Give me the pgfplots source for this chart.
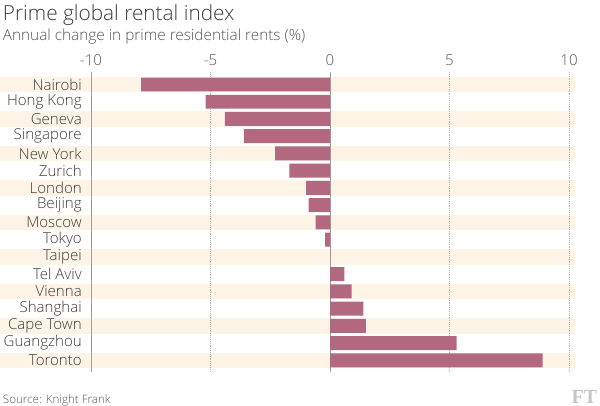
\documentclass[border=0pt]{standalone}
\usepackage{pgfplots}
\pgfplotsset{compat=1.18}
\usepackage{fontspec}
\setmainfont{Open Sans}[UprightFont=* Light]
\newfontfamily\ftfont{Liberation Serif}
\definecolor{barcol}{HTML}{B2687F}
\definecolor{stripe}{HTML}{FDF4E6}
\definecolor{txt}{HTML}{3F3B38}
\definecolor{tickc}{HTML}{5A5551}
\definecolor{gridc}{HTML}{B8B4B0}
\definecolor{zeroc}{HTML}{A09C98}
\begin{document}
\begin{tikzpicture}
\node[anchor=west, inner sep=0pt, text=txt, font=\fontsize{15.6}{18}\selectfont] at (2pt,-11.5pt) {Prime global rental index};
\node[anchor=west, inner sep=0pt, text=tickc, font=\fontsize{11.5}{13}\selectfont] at (2pt,-27.5pt) {Annual change in prime residential rents (\%)};
\node[anchor=west, inner sep=0pt, text=tickc, font=\fontsize{8.7}{10}\selectfont] at (2pt,-300pt) {Source: Knight Frank};
\node[anchor=east, inner sep=0pt, text=gray!45, font=\ftfont\bfseries\fontsize{15}{16}\selectfont] at (448pt,-297.5pt) {FT};
\begin{axis}[
  set layers,
  at={(68.25pt,-279pt)}, anchor=south west,
  scale only axis, width=363pt, height=225pt,
  xmin=-10, xmax=10.25, ymin=-0.725, ymax=16.68, y dir=reverse,
  clip=false,
  axis line style={draw=none},
  major tick length=0pt,
  xtick={-10,-5,0,5,10},
  xticklabel pos=upper,
  /pgf/number format/assume math mode=true,
  xmajorgrids, grid style={densely dotted, gridc, line width=0.5pt},
  xticklabel style={font=\fontsize{11.3}{13}\selectfont, text=tickc, yshift=1pt},
  ytick={0,...,16},
  yticklabels={Nairobi,Hong Kong,Geneva,Singapore,New York,Zurich,London,Beijing,Moscow,Tokyo,Taipei,Tel Aviv,Vienna,Shanghai,Cape Town,Guangzhou,Toronto},
  yticklabel style={font=\fontsize{11.3}{13}\selectfont, text=txt, anchor=east, inner sep=0pt, xshift=-6.75pt},
]
\begin{pgfonlayer}{axis background}
\fill[stripe] (axis cs:-13.81,-0.45) rectangle (axis cs:10.25,0.45);
\fill[stripe] (axis cs:-13.81,1.55) rectangle (axis cs:10.25,2.45);
\fill[stripe] (axis cs:-13.81,3.55) rectangle (axis cs:10.25,4.45);
\fill[stripe] (axis cs:-13.81,5.55) rectangle (axis cs:10.25,6.45);
\fill[stripe] (axis cs:-13.81,7.55) rectangle (axis cs:10.25,8.45);
\fill[stripe] (axis cs:-13.81,9.55) rectangle (axis cs:10.25,10.45);
\fill[stripe] (axis cs:-13.81,11.55) rectangle (axis cs:10.25,12.45);
\fill[stripe] (axis cs:-13.81,13.55) rectangle (axis cs:10.25,14.45);
\fill[stripe] (axis cs:-13.81,15.55) rectangle (axis cs:10.25,16.45);
\end{pgfonlayer}
\draw[zeroc, line width=0.7pt] (axis cs:-10,-0.725) -- (axis cs:-10,16.68);
\draw[zeroc, line width=0.7pt] (axis cs:0,-0.725) -- (axis cs:0,16.68);
\addplot[xbar, fill=barcol, draw=none, bar width=0.81] coordinates {
(-7.9,0) (-5.2,1) (-4.4,2) (-3.6,3) (-2.3,4) (-1.7,5) (-1.0,6) (-0.9,7) (-0.6,8) (-0.2,9) (0,10) (0.6,11) (0.9,12) (1.4,13) (1.5,14) (5.3,15) (8.9,16)
};
\end{axis}
\pgfresetboundingbox
\useasboundingbox (0,0) rectangle (450pt,-304.5pt);
\end{tikzpicture}
\end{document}
